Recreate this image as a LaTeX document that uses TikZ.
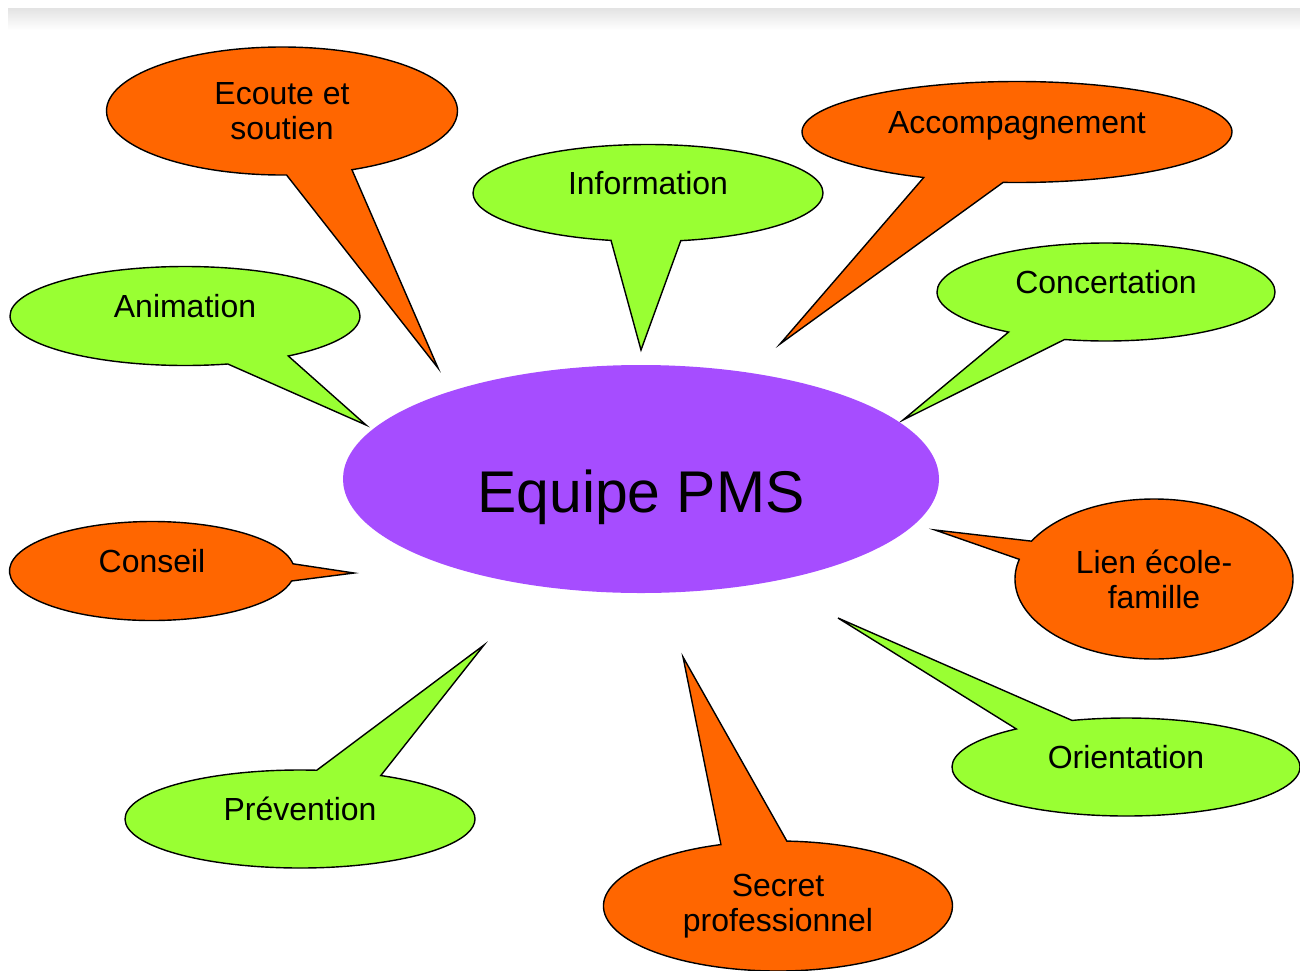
\documentclass[tikz,border=0pt]{standalone}
\usepackage{fontspec}
\setmainfont{Liberation Sans}
\usetikzlibrary{shapes.callouts,shapes.geometric}
\definecolor{orng}{HTML}{FF6600}
\definecolor{grn}{HTML}{99FF33}
\definecolor{purp}{HTML}{A64DFF}
\begin{document}
\begin{tikzpicture}[x=0.02cm,y=-0.02cm,
  bubble/.style={ellipse callout, draw=black, line width=0.8pt, inner sep=0pt, align=center,
    font=\fontsize{18.2}{19.9}\selectfont, text=black},
  ob/.style={bubble, fill=orng},
  gb/.style={bubble, fill=grn},
  one/.style={text height=7.5pt, text depth=5.5pt},
  sz/.style 2 args={minimum width=#1*0.02cm, minimum height=#2*0.02cm},
]
\useasboundingbox (0,0) rectangle (1300,970);
\shade[top color=gray!22, bottom color=white] (8,8) rectangle (1300,30);

\node[ob, sz={351}{128}, callout absolute pointer={(438,368)}, callout pointer arc=22] (ecoute) at (282,111) {Ecoute et\\soutien};
\node[gb, one, sz={350}{97}, callout absolute pointer={(641,350)}, callout pointer arc=23] (info) at (648,193) {Information};
\node[ob, one, sz={430}{101}, callout absolute pointer={(780,344)}, callout pointer arc=22] (accomp) at (1017,132) {Accompagnement};
\node[gb, one, sz={350}{99}, callout absolute pointer={(366,425)}, callout pointer arc=22] (anim) at (185,316) {Animation};
\node[gb, one, sz={338}{98}, callout absolute pointer={(903,420)}, callout pointer arc=21] (concert) at (1106,292) {Concertation};
\node[ob, one, sz={285}{99}, callout absolute pointer={(354,573)}, callout pointer arc=20] (conseil) at (152,571) {Conseil};
\node[ob, sz={278}{160}, callout absolute pointer={(935,530)}, callout pointer arc=14] (lien) at (1154,579) {Lien école-\\famille};
\node[gb, one, sz={350}{98}, callout absolute pointer={(484,645)}, callout pointer arc=22] (prev) at (300,819) {Prévention};
\node[ob, sz={349}{130}, callout absolute pointer={(683,657)}, callout pointer arc=22] (secret) at (778,906) {Secret\\professionnel};
\node[gb, one, sz={348}{98}, callout absolute pointer={(838,618)}, callout pointer arc=21] (orient) at (1126,767) {Orientation};

\node[ellipse, fill=purp, inner sep=0pt, minimum width=596*0.02cm, minimum height=228*0.02cm,
  text height=40pt, text depth=1.4pt,
  font=\fontsize{33.5}{40}\selectfont] (pms) at (641,479) {Equipe PMS};
\end{tikzpicture}
\end{document}
